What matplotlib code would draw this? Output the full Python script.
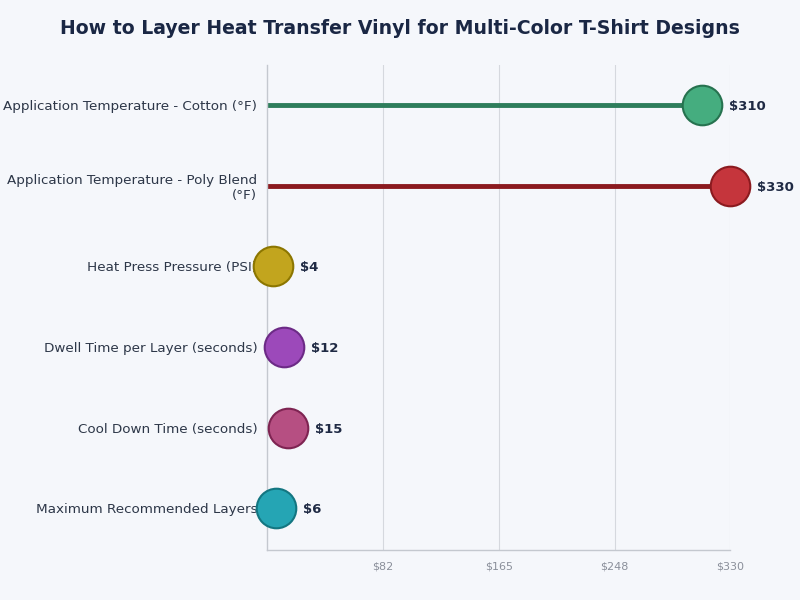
import matplotlib.pyplot as plt

# Data
labels = [
    "Application Temperature - Cotton (°F)",
    "Application Temperature - Poly Blend\n(°F)",
    "Heat Press Pressure (PSI)",
    "Dwell Time per Layer (seconds)",
    "Cool Down Time (seconds)",
    "Maximum Recommended Layers",
]
values = [310, 330, 4, 12, 15, 6]
face_colors = ["#45ad7f", "#c5353c", "#c2a51e", "#9c49ba", "#b64f82", "#25a5b4"]
edge_colors = ["#26724f", "#8b1a1f", "#8c7600", "#6c2a86", "#7e2452", "#137681"]
stem_colors = ["#2e7d5b", "#8b1a1f", "#8c7600", "#6c2a86", "#7e2452", "#137681"]
ticks = [82.5, 165, 247.5, 330]

bg = "#f5f7fb"
fig = plt.figure(figsize=(8, 6), dpi=100, facecolor=bg)
ax = fig.add_axes([0.334, 0.083, 0.579, 0.809], facecolor=bg)

for i, v in enumerate(values):
    ax.plot([0, v], [i, i], color=stem_colors[i], lw=3.5, solid_capstyle="butt", zorder=2)
    ax.plot(v, i, "o", ms=28.5, mfc=face_colors[i], mec=edge_colors[i], mew=1.5,
            zorder=3, clip_on=False)
    ax.annotate(f"${v}", (v, i), xytext=(19.5, -1), textcoords="offset points",
                va="center", ha="left", fontsize=9.5, fontweight="bold",
                color="#1f2a44", annotation_clip=False)

ax.set_xlim(0, 330)
ax.set_ylim(5.52, -0.5)
ax.set_yticks(range(len(labels)))
ax.set_yticklabels(labels, fontsize=9.7, color="#2d3748")
ax.set_xticks(ticks)
ax.set_xticklabels([f"${t:.0f}" for t in ticks], fontsize=8, color="#8a8f9a")
ax.tick_params(length=0, pad=8)
ax.tick_params(axis="y", pad=7)
ax.grid(axis="x", color="#d5d8de", lw=0.8, zorder=0)
ax.set_axisbelow(True)
for s in ["top", "right"]:
    ax.spines[s].set_visible(False)
for s in ["left", "bottom"]:
    ax.spines[s].set_color("#c4c8cf")
    ax.spines[s].set_linewidth(1)

fig.suptitle("How to Layer Heat Transfer Vinyl for Multi-Color T-Shirt Designs",
             fontsize=13.6, fontweight="bold", color="#1a2744", y=0.968)

fig.savefig("out.png", dpi=100, facecolor=bg)
